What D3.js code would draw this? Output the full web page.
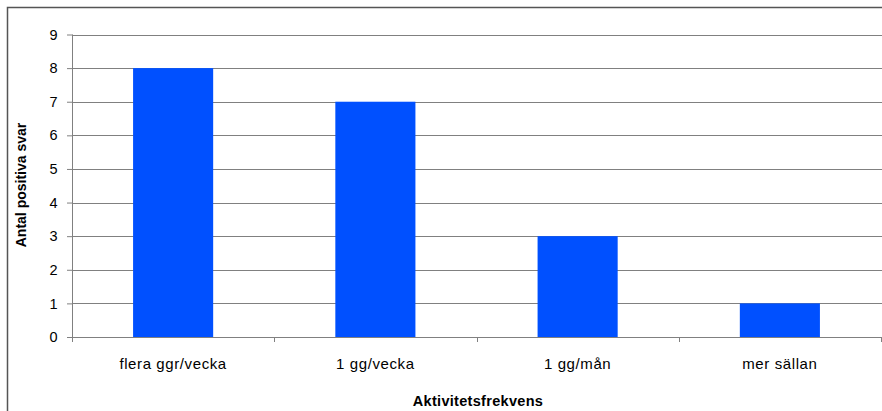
<!DOCTYPE html>
<html>
<head>
<meta charset="utf-8">
<script src="https://cdn.jsdelivr.net/npm/d3@7"></script>
<style>
  html, body { margin: 0; padding: 0; background: #fff; }
  svg { display: block; }
</style>
</head>
<body>
<svg id="chart" width="882" height="411"></svg>
<script>
const categories = ["flera ggr/vecka", "1 gg/vecka", "1 gg/mån", "mer sällan"];
const values = [8, 7, 3, 1];
const yTicks = [0, 1, 2, 3, 4, 5, 6, 7, 8, 9];
const xTitle = "Aktivitetsfrekvens";
const yTitle = "Antal positiva svar";

(function () {
const svg = d3.select("#chart");
const font = "'Liberation Sans', Arial, sans-serif";

// outer border (extends past right/bottom edges)
svg.append("rect")
  .attr("x", 7.5).attr("y", 7.5)
  .attr("width", 900).attr("height", 420)
  .attr("fill", "none").attr("stroke", "#555").attr("stroke-width", 1.5);

const pLeft = 72, pRight = 881, pTop = 34.5, pBottom = 337;

const x = d3.scaleBand().domain(categories).range([pLeft, pRight])
  .paddingInner(0.604).paddingOuter(0.302);
const y = d3.scaleLinear().domain([0, 9]).range([pBottom, pTop]);

// gridlines
svg.append("g").selectAll("line")
  .data(yTicks.filter(d => d > 0))
  .join("line")
  .attr("x1", pLeft).attr("x2", pRight + 2)
  .attr("y1", d => Math.round(y(d)) + 0.5).attr("y2", d => Math.round(y(d)) + 0.5)
  .attr("stroke", "#808080").attr("stroke-width", 1);

// bars
svg.append("g").selectAll("rect")
  .data(values)
  .join("rect")
  .attr("x", (d, i) => x(categories[i]))
  .attr("y", d => y(d))
  .attr("width", x.bandwidth())
  .attr("height", d => y(0) - y(d))
  .attr("fill", "#0050FF");

// y axis
const yAxis = d3.axisLeft(y).tickValues(yTicks).tickSize(5.5).tickPadding(9.5).tickFormat(d3.format("d"));
const gy = svg.append("g").attr("transform", `translate(${pLeft + 0.5},0)`).call(yAxis);
gy.select(".domain").attr("stroke", "#808080").attr("d", `M0,${pTop}V${pBottom}`);
gy.selectAll(".tick line").attr("stroke", "#808080");
gy.selectAll(".tick text").attr("font-family", font).attr("font-size", 14.5).attr("fill", "#000");

// x axis line and ticks at band boundaries
const boundaries = categories.map(c => x(c) - x.step() * x.paddingInner() / 2);
boundaries.push(pRight);
svg.append("line")
  .attr("x1", pLeft).attr("x2", pRight + 2)
  .attr("y1", pBottom + 0.5).attr("y2", pBottom + 0.5)
  .attr("stroke", "#808080");
svg.append("g").selectAll("line")
  .data(boundaries)
  .join("line")
  .attr("x1", d => Math.round(d) + 0.5).attr("x2", d => Math.round(d) + 0.5)
  .attr("y1", pBottom).attr("y2", pBottom + 5)
  .attr("stroke", "#808080");

// x labels
svg.append("g").selectAll("text")
  .data(categories)
  .join("text")
  .attr("x", d => x(d) + x.bandwidth() / 2)
  .attr("y", 369)
  .attr("text-anchor", "middle")
  .attr("font-family", font).attr("font-size", 15)
  .attr("letter-spacing", 0.6)
  .attr("fill", "#000")
  .text(d => d);

// axis titles
svg.append("text")
  .attr("x", 478).attr("y", 406)
  .attr("text-anchor", "middle")
  .attr("font-family", font).attr("font-size", 14.5).attr("font-weight", "bold")
  .attr("letter-spacing", 0.3)
  .text(xTitle);

svg.append("text")
  .attr("transform", "translate(26,185) rotate(-90)")
  .attr("text-anchor", "middle")
  .attr("font-family", font).attr("font-size", 14).attr("font-weight", "bold")
  .text(yTitle);
})();
</script>
</body>
</html>
